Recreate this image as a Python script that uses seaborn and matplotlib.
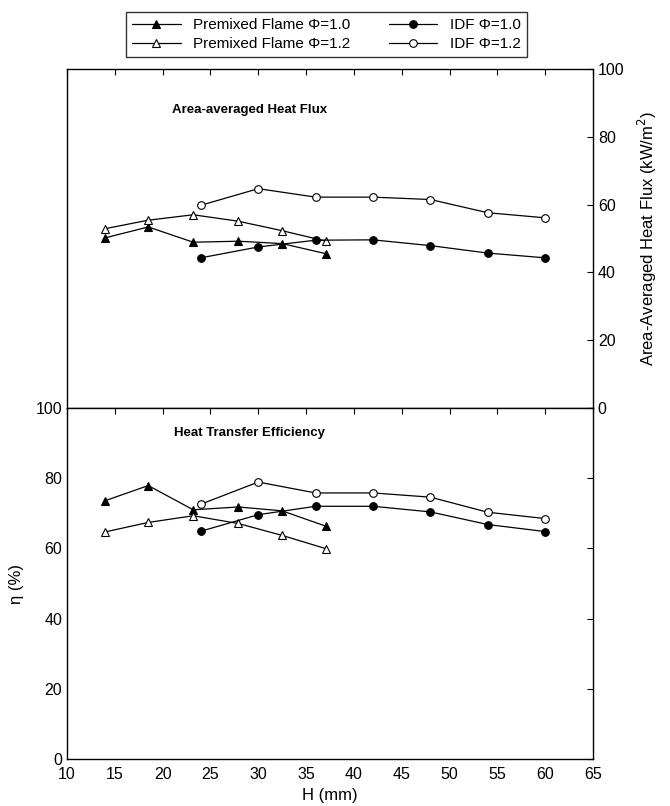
import pandas as pd
import seaborn as sns
import matplotlib.pyplot as plt

sns.set_style("white")
plt.rcParams['font.family'] = ['Liberation Sans', 'DejaVu Sans']
plt.rcParams['text.color'] = 'k'
plt.rcParams['axes.labelcolor'] = 'k'

# premixed flame heights and IDF heights (mm)
h_pre = [14, 18.5, 23.2, 27.9, 32.5, 37.1]
h_idf = [24, 30, 36, 42, 48, 54, 60]

# area-averaged heat flux (kW/m2)
q_pre10 = [50.2, 53.4, 48.9, 49.2, 48.5, 45.5]
q_pre12 = [52.9, 55.4, 57.0, 55.1, 52.3, 49.2]
q_idf10 = [44.3, 47.5, 49.5, 49.6, 47.9, 45.7, 44.3]
q_idf12 = [59.8, 64.7, 62.2, 62.2, 61.5, 57.6, 56.1]

# heat transfer efficiency (%)
e_pre10 = [73.6, 77.9, 71.0, 71.8, 70.7, 66.3]
e_pre12 = [64.7, 67.4, 69.3, 67.1, 63.7, 59.9]
e_idf10 = [64.9, 69.6, 72.0, 72.0, 70.4, 66.8, 64.8]
e_idf12 = [72.6, 78.9, 75.8, 75.8, 74.6, 70.3, 68.5]

labels = ["Premixed Flame Φ=1.0", "Premixed Flame Φ=1.2", "IDF Φ=1.0", "IDF Φ=1.2"]
styles = [dict(marker="^", mfc="k"), dict(marker="^", mfc="white"),
          dict(marker="o", mfc="k"), dict(marker="o", mfc="white")]

fig = plt.figure(figsize=(6.7, 8.06), dpi=100)
ax1 = fig.add_axes([0.1, 0.4938, 0.785, 0.4206])
ax2 = fig.add_axes([0.1, 0.0583, 0.785, 0.4355])

def draw(ax, ys):
    xs = [h_pre, h_pre, h_idf, h_idf]
    for x, y, lab, st in zip(xs, ys, labels, styles):
        sns.lineplot(x=x, y=y, ax=ax, color="k", lw=0.9, ms=5.5, mec="k",
                     mew=0.8, label=lab, estimator=None, sort=False, **st)
    ax.set_xlim(10, 65)
    ax.set_ylim(0, 100)
    ax.set_xticks(range(10, 66, 5))
    ax.set_yticks(range(0, 101, 20))
    ax.tick_params(direction="in", top=True, right=True, length=4,
                   width=0.8, labelsize=11.5, colors="k")
    ax.tick_params(axis="x", pad=6)
    for s in ax.spines.values():
        s.set_color("k")
        s.set_linewidth(1)
    ax.get_legend().remove()

draw(ax1, [q_pre10, q_pre12, q_idf10, q_idf12])
draw(ax2, [e_pre10, e_pre12, e_idf10, e_idf12])

ax1.tick_params(labelleft=False, labelright=True, labelbottom=False)
ax1.yaxis.set_label_position("right")
ax1.set_ylabel("Area-Averaged Heat Flux (kW/m$^2$)", fontsize=12, labelpad=8)
ax1.text(29.1, 88, "Area-averaged Heat Flux", ha="center", va="center",
         fontsize=9.5, fontweight="bold")

ax2.set_ylabel("η (%)", fontsize=12, labelpad=8)
ax2.set_xlabel("H (mm)", fontsize=12, labelpad=4)
ax2.text(29.1, 93, "Heat Transfer Efficiency", ha="center", va="center",
         fontsize=9.5, fontweight="bold")

leg = fig.legend(ax1.get_lines(), labels, loc="center",
                 bbox_to_anchor=(0.487, 0.957), ncol=2, fontsize=11,
                 frameon=True, fancybox=False, edgecolor="k",
                 handlelength=3.2, columnspacing=2.5, borderpad=0.4,
                 labelspacing=0.3)
leg.get_frame().set_linewidth(1)

fig.savefig("out.png", dpi=100)
